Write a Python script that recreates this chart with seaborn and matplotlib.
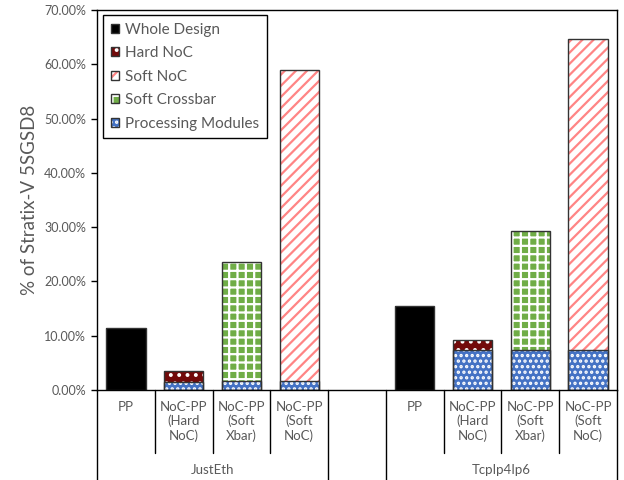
import numpy as np
import pandas as pd
import seaborn as sns
import matplotlib.pyplot as plt
from matplotlib.patches import Patch, Rectangle

groups = ["JustEth", "TcpIp4Ip6"]
configs = ["PP", "NoC-PP\n(Hard\nNoC)", "NoC-PP\n(Soft\nXbar)", "NoC-PP\n(Soft\nNoC)"]

# values in % of the device
whole_design = [11.4, 15.5]
hard_noc = [2.0, 2.0]
soft_xbar = [22.0, 22.0]
soft_noc = [57.3, 57.4]
pm_hard = [1.5, 7.3]
pm_xbar = [1.6, 7.3]
pm_soft = [1.6, 7.3]
y_ticks = [0, 10, 20, 30, 40, 50, 60, 70]

sns.set_theme(style="white")
plt.rcParams['font.family'] = ['Lato', 'DejaVu Sans']
plt.rcParams['hatch.linewidth'] = 1.6
grey = '#595959'

slots = [f"{g}|{c}" for g in groups for c in configs]
order = slots[:4] + ["gap"] + slots[4:]

rows = []
for i, g in enumerate(groups):
    rows.append((f"{g}|{configs[0]}", "Whole Design", whole_design[i]))
    rows.append((f"{g}|{configs[1]}", "Hard NoC", pm_hard[i] + hard_noc[i]))
    rows.append((f"{g}|{configs[2]}", "Soft Crossbar", pm_xbar[i] + soft_xbar[i]))
    rows.append((f"{g}|{configs[3]}", "Soft NoC", pm_soft[i] + soft_noc[i]))
    rows.append((f"{g}|{configs[1]}", "Processing Modules", pm_hard[i]))
    rows.append((f"{g}|{configs[2]}", "Processing Modules", pm_xbar[i]))
    rows.append((f"{g}|{configs[3]}", "Processing Modules", pm_soft[i]))
df = pd.DataFrame(rows, columns=["slot", "layer", "value"])

# face, hatch, hatch colour
styles = {
    "Whole Design": ("#000000", None, "#000000"),
    "Hard NoC": ("#720a0a", "..", "#ffffff"),
    "Soft NoC": ("#ffffff", "///", "#ff8585"),
    "Soft Crossbar": ("#70ad47", "++", "#ffffff"),
    "Processing Modules": ("#4472c4", "...", "#ffffff"),
}
draw_order = ["Whole Design", "Hard NoC", "Soft Crossbar", "Soft NoC", "Processing Modules"]

fig = plt.figure(figsize=(6.24, 4.8), dpi=100)
ax = fig.add_axes([97/624, 1-390/480, 520/624, 380/480])

for name in draw_order:
    face, hatch, hc = styles[name]
    sub = df[df["layer"] == name]
    sns.barplot(data=sub, x="slot", y="value", order=order, color=face, saturation=1,
                width=0.68, edgecolor=hc, linewidth=0, hatch=hatch, errorbar=None, ax=ax)

for p in list(ax.patches):
    ax.add_patch(Rectangle(p.get_xy(), p.get_width(), p.get_height(), fill=False,
                           ec='#333333', lw=1.0, zorder=p.get_zorder() + 0.1))

ax.set_xlim(-0.5, 8.5)
ax.set_ylim(0, 70)
ax.set_yticks(y_ticks)
ax.set_yticklabels([f"{v:.2f}%" for v in y_ticks], color=grey, fontsize=9)
ax.tick_params(axis='y', left=True, length=4, width=1, color='black', pad=4)
ax.set_xticks([])
ax.set_xlabel("")
ax.set_ylabel("% of Stratix-V 5SGSD8", color=grey, fontsize=13.5, labelpad=4)
for s in ax.spines.values():
    s.set_color('black')
    s.set_linewidth(1)

# category table under the axis
trans = ax.get_xaxis_transform()
for k in range(10):
    x = k - 0.5
    bottom = -0.25 if k in (0, 4, 5, 9) else -0.165
    ax.plot([x, x], [0, bottom], color='black', lw=1, transform=trans, clip_on=False)
for k, slot in enumerate(order):
    if slot == "gap":
        continue
    ax.text(k, -0.028, slot.split("|")[1], transform=trans, ha='center', va='top',
            fontsize=9.5, color=grey, linespacing=1.2)
for gi, g in enumerate(groups):
    ax.text(1.5 + 5 * gi, -0.21, g, transform=trans, ha='center', va='center',
            fontsize=9.5, color=grey)

handles = []
labels = ["Whole Design", "Hard NoC", "Soft NoC", "Soft Crossbar", "Processing Modules"]
for name in labels:
    face, hatch, hc = styles[name]
    handles.append((Patch(facecolor=face, hatch=hatch, edgecolor=hc, lw=0),
                    Patch(fill=False, edgecolor='#333333', lw=1)))
leg = ax.legend(handles, labels, loc='upper left', bbox_to_anchor=(103/624, 1-15/480),
                bbox_transform=fig.transFigure, borderaxespad=0, fontsize=11,
                labelspacing=0.62, handlelength=0.55, handleheight=0.55, handletextpad=0.4,
                borderpad=0.5, fancybox=False, framealpha=1, edgecolor='black')
leg.get_frame().set_linewidth(1)
for t in leg.get_texts():
    t.set_color(grey)

fig.savefig("out.png", dpi=100)
